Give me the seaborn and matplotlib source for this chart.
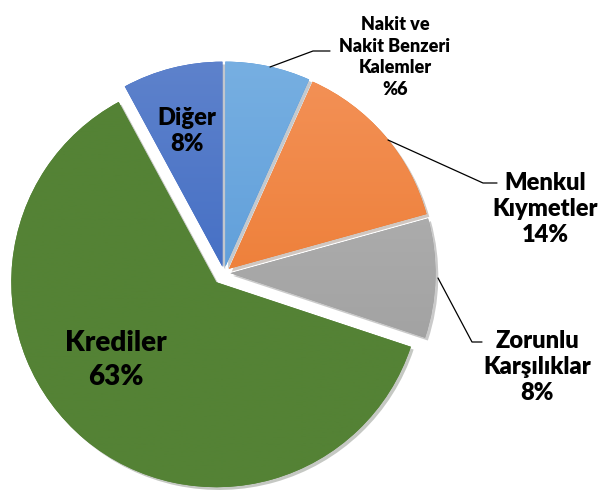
import numpy as np
import matplotlib
matplotlib.use("Agg")
import matplotlib.pyplot as plt
import matplotlib.patheffects as pe
import seaborn as sns

# data (shares, labels as printed)
categories = ["Nakit ve\nNakit Benzeri\nKalemler", "Menkul\nKıymetler", "Zorunlu\nKarşılıklar", "Krediler", "Diğer"]
shares = [6.7, 14.0, 9.4, 62.0, 7.9]
pct_labels = ["%6", "14%", "8%", "63%", "8%"]
explode = [6.5, 6.5, 6.5, 12, 6.5]  # pie explode is in data units (pixels here)
top_colors = ["#78b0e2", "#f4935a", "#b8b8b8", "#548235", "#5f83cc"]
bottom_colors = ["#4a8fd3", "#e86e1c", "#979797", "#548235", "#2d5dbe"]

sns.set_theme(style="white")
plt.rcParams["font.family"] = ["Lato", "DejaVu Sans"]

fig = plt.figure(figsize=(6.03, 4.92), dpi=100)
ax = fig.add_axes([0, 0, 1, 1])

cx, cy, r = 224, 219, 205
wedges, _ = ax.pie(shares, explode=explode, colors=bottom_colors, startangle=90,
                   counterclock=False, center=(cx, cy), radius=r, frame=True)
ax.set_xlim(0, 603)
ax.set_ylim(0, 492)
ax.set_aspect("equal")
ax.axis("off")

# vertical gradient fill clipped to each wedge, plus soft shadow
for w, c1, c2 in zip(wedges, top_colors, bottom_colors):
    w.set_path_effects([pe.SimplePatchShadow(offset=(2, -2), alpha=0.25), pe.Normal()])
    w.set_linewidth(0)
    cmap = matplotlib.colors.LinearSegmentedColormap.from_list("g", [c1, c2])
    grad = np.linspace(0, 1, 256).reshape(-1, 1)
    im = ax.imshow(grad, cmap=cmap, extent=(0, 603, cy - r - 20, cy + r + 20),
                   origin="upper", aspect="auto", zorder=w.get_zorder() + 0.1)
    im.set_clip_path(w)
ax.set_xlim(0, 603)
ax.set_ylim(0, 492)

H = 492
bold = dict(fontweight="heavy", color="black", ha="center", va="center")

# inside labels
ax.text(187, H - 131, "Diğer\n8%", fontsize=17, linespacing=1.25, **bold)
ax.text(116, H - 360, "Krediler\n63%", fontsize=20, linespacing=1.4, **bold)

# outside labels with leader lines
ax.text(395, H - 57, categories[0] + "\n" + pct_labels[0], fontsize=13, linespacing=1.35, **bold)
ax.plot([270, 313, 330], [H - 67, H - 51, H - 51], color="black", lw=0.9)

ax.text(545, H - 209, categories[1] + "\n" + pct_labels[1], fontsize=17, linespacing=1.25, **bold)
ax.plot([388, 483, 497], [H - 140, H - 183, H - 183], color="black", lw=0.9)

ax.text(537, H - 367, categories[2] + "\n" + pct_labels[2], fontsize=17, linespacing=1.25, **bold)
ax.plot([438, 472, 482], [H - 278, H - 342, H - 342], color="black", lw=0.9)

fig.savefig("out.png", dpi=100)
